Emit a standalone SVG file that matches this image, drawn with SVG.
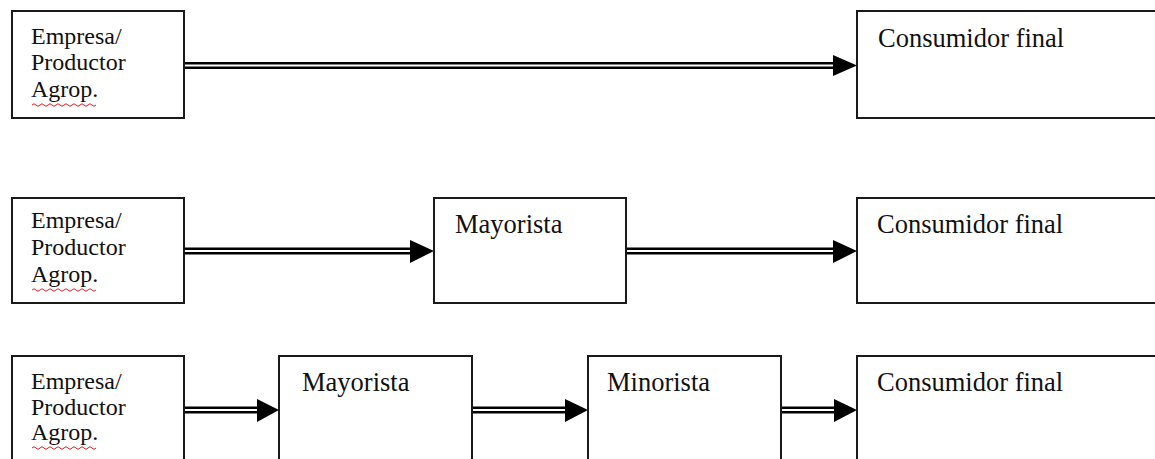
<svg xmlns="http://www.w3.org/2000/svg" width="1155" height="459" viewBox="0 0 1155 459">
<style>
.box{fill:#fff;stroke:#1a1a1a;stroke-width:2}
text{font-family:'Liberation Serif',Tinos,'Times New Roman','DejaVu Serif',serif;fill:#111}
.s{font-size:24px}
.l{font-size:26.5px}
.shaft{stroke:#000;stroke-width:7;fill:none}
.gap{stroke:#fff;stroke-width:2.2;fill:none}
.head{fill:#000}
.sq{fill:none;stroke:#e02020;stroke-width:1}
</style>
<rect width="1155" height="459" fill="#fff"/>
<g id="connectors">
  <g id="c1"><line class="shaft" x1="184" y1="65.5" x2="836" y2="65.5"/><line class="gap" x1="185" y1="65.5" x2="834" y2="65.5"/><polygon class="head" points="833,55 857,65.5 833,76"/></g>
  <g id="c2"><line class="shaft" x1="184" y1="251" x2="412" y2="251"/><line class="gap" x1="185" y1="251" x2="411" y2="251"/><polygon class="head" points="410,240 434,251 410,263"/></g>
  <g id="c3"><line class="shaft" x1="626" y1="251" x2="835" y2="251"/><line class="gap" x1="627" y1="251" x2="834" y2="251"/><polygon class="head" points="833,240 857,251 833,263"/></g>
  <g id="c4"><line class="shaft" x1="184" y1="410" x2="259" y2="410"/><line class="gap" x1="185" y1="410" x2="258" y2="410"/><polygon class="head" points="257,399 279,410 257,422"/></g>
  <g id="c5"><line class="shaft" x1="472" y1="410" x2="567" y2="410"/><line class="gap" x1="473" y1="410" x2="566" y2="410"/><polygon class="head" points="565,399 588,410 565,422"/></g>
  <g id="c6"><line class="shaft" x1="781" y1="410" x2="836" y2="410"/><line class="gap" x1="782" y1="410" x2="835" y2="410"/><polygon class="head" points="834,399 857,410 834,422"/></g>
</g>
<g id="r1-empresa"><rect class="box" x="12" y="11" width="172" height="107"/>
  <text class="s" x="31" y="44" font-family="Liberation Serif, serif">Empresa/</text><text class="s" x="31" y="70" font-family="Liberation Serif, serif">Productor</text><text class="s" x="31" y="97" font-family="Liberation Serif, serif">Agrop.</text>
  <path class="sq" d="M32,105 q2,-2.5 4,0 t4,0 t4,0 t4,0 t4,0 t4,0 t4,0 t4,0 t4,0 t4,0 t4,0 t4,0 t4,0 t4,0 t4,0 t4,0"/></g>
<g id="r1-consumidor"><rect class="box" x="857" y="11" width="320" height="107"/>
  <text class="l" x="878" y="47" font-family="Liberation Serif, serif">Consumidor final</text></g>
<g id="r2-empresa"><rect class="box" x="12" y="198" width="172" height="105"/>
  <text class="s" x="31" y="228" font-family="Liberation Serif, serif">Empresa/</text><text class="s" x="31" y="255" font-family="Liberation Serif, serif">Productor</text><text class="s" x="31" y="282" font-family="Liberation Serif, serif">Agrop.</text>
  <path class="sq" d="M32,290 q2,-2.5 4,0 t4,0 t4,0 t4,0 t4,0 t4,0 t4,0 t4,0 t4,0 t4,0 t4,0 t4,0 t4,0 t4,0 t4,0 t4,0"/></g>
<g id="r2-mayorista"><rect class="box" x="434" y="198" width="192" height="105"/>
  <text class="l" x="455" y="233" font-family="Liberation Serif, serif">Mayorista</text></g>
<g id="r2-consumidor"><rect class="box" x="857" y="198" width="320" height="105"/>
  <text class="l" x="877" y="233" font-family="Liberation Serif, serif">Consumidor final</text></g>
<g id="r3-empresa"><rect class="box" x="12" y="356" width="172" height="120"/>
  <text class="s" x="31" y="389" font-family="Liberation Serif, serif">Empresa/</text><text class="s" x="31" y="415" font-family="Liberation Serif, serif">Productor</text><text class="s" x="31" y="440" font-family="Liberation Serif, serif">Agrop.</text>
  <path class="sq" d="M32,448 q2,-2.5 4,0 t4,0 t4,0 t4,0 t4,0 t4,0 t4,0 t4,0 t4,0 t4,0 t4,0 t4,0 t4,0 t4,0 t4,0 t4,0"/></g>
<g id="r3-mayorista"><rect class="box" x="279" y="356" width="193" height="120"/>
  <text class="l" x="302" y="391" font-family="Liberation Serif, serif">Mayorista</text></g>
<g id="r3-minorista"><rect class="box" x="588" y="356" width="193" height="120"/>
  <text class="l" x="607" y="391" font-family="Liberation Serif, serif">Minorista</text></g>
<g id="r3-consumidor"><rect class="box" x="857" y="356" width="320" height="120"/>
  <text class="l" x="877" y="391" font-family="Liberation Serif, serif">Consumidor final</text></g>
</svg>
